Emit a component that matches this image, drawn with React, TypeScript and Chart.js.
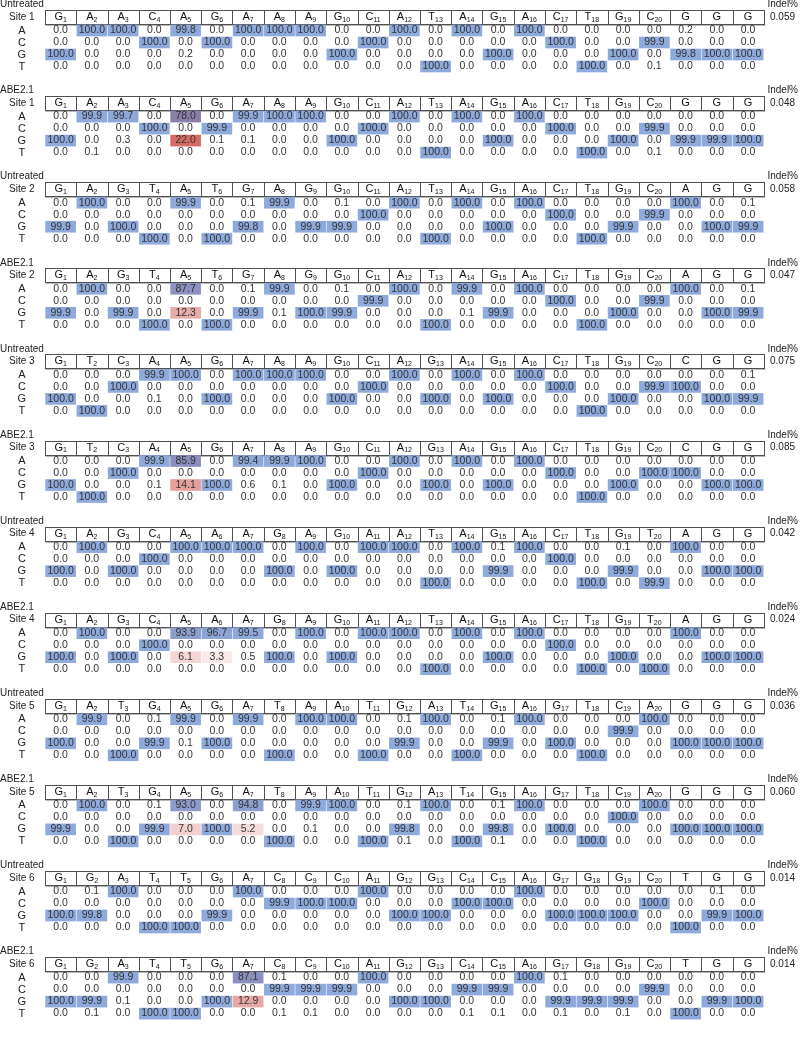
import React, { useEffect, useRef } from "react";
import { Chart, registerables } from "chart.js";
Chart.register(...registerables);

// ---------- DATA ----------
const ROW_BASES = ["A", "C", "G", "T"];
const CONDITIONS = ["Untreated", "ABE2.1"];

const SEQ_SITE1 = "GAACAGAAAGCATAGACTGCGGG";
const SEQ_SITE2 = "GAGTATGAGGCATAGACTGCAGG";
const SEQ_SITE3 = "GTCAAGAAAGCAGAGACTGCCGG";
const SEQ_SITE4 = "GAGCAAAGAGAATAGACTGTAGG";
const SEQ_SITE5 = "GATGAGATAATGATGAGTCAGGG";
const SEQ_SITE6 = "GGATTGACCCAGGCCAGGGCTGG";

// Site 1
const s1uA = [0.0, 100.0, 100.0, 0.0, 99.8, 0.0, 100.0, 100.0, 100.0, 0.0, 0.0, 100.0, 0.0, 100.0, 0.0, 100.0, 0.0, 0.0, 0.0, 0.0, 0.2, 0.0, 0.0];
const s1uC = [0.0, 0.0, 0.0, 100.0, 0.0, 100.0, 0.0, 0.0, 0.0, 0.0, 100.0, 0.0, 0.0, 0.0, 0.0, 0.0, 100.0, 0.0, 0.0, 99.9, 0.0, 0.0, 0.0];
const s1uG = [100.0, 0.0, 0.0, 0.0, 0.2, 0.0, 0.0, 0.0, 0.0, 100.0, 0.0, 0.0, 0.0, 0.0, 100.0, 0.0, 0.0, 0.0, 100.0, 0.0, 99.8, 100.0, 100.0];
const s1uT = [0.0, 0.0, 0.0, 0.0, 0.0, 0.0, 0.0, 0.0, 0.0, 0.0, 0.0, 0.0, 100.0, 0.0, 0.0, 0.0, 0.0, 100.0, 0.0, 0.1, 0.0, 0.0, 0.0];
const s1eA = [0.0, 99.9, 99.7, 0.0, 78.0, 0.0, 99.9, 100.0, 100.0, 0.0, 0.0, 100.0, 0.0, 100.0, 0.0, 100.0, 0.0, 0.0, 0.0, 0.0, 0.0, 0.0, 0.0];
const s1eC = [0.0, 0.0, 0.0, 100.0, 0.0, 99.9, 0.0, 0.0, 0.0, 0.0, 100.0, 0.0, 0.0, 0.0, 0.0, 0.0, 100.0, 0.0, 0.0, 99.9, 0.0, 0.0, 0.0];
const s1eG = [100.0, 0.0, 0.3, 0.0, 22.0, 0.1, 0.1, 0.0, 0.0, 100.0, 0.0, 0.0, 0.0, 0.0, 100.0, 0.0, 0.0, 0.0, 100.0, 0.0, 99.9, 99.9, 100.0];
const s1eT = [0.0, 0.1, 0.0, 0.0, 0.0, 0.0, 0.0, 0.0, 0.0, 0.0, 0.0, 0.0, 100.0, 0.0, 0.0, 0.0, 0.0, 100.0, 0.0, 0.1, 0.0, 0.0, 0.0];

// Site 2
const s2uA = [0.0, 100.0, 0.0, 0.0, 99.9, 0.0, 0.1, 99.9, 0.0, 0.1, 0.0, 100.0, 0.0, 100.0, 0.0, 100.0, 0.0, 0.0, 0.0, 0.0, 100.0, 0.0, 0.1];
const s2uC = [0.0, 0.0, 0.0, 0.0, 0.0, 0.0, 0.0, 0.0, 0.0, 0.0, 100.0, 0.0, 0.0, 0.0, 0.0, 0.0, 100.0, 0.0, 0.0, 99.9, 0.0, 0.0, 0.0];
const s2uG = [99.9, 0.0, 100.0, 0.0, 0.0, 0.0, 99.8, 0.0, 99.9, 99.9, 0.0, 0.0, 0.0, 0.0, 100.0, 0.0, 0.0, 0.0, 99.9, 0.0, 0.0, 100.0, 99.9];
const s2uT = [0.0, 0.0, 0.0, 100.0, 0.0, 100.0, 0.0, 0.0, 0.0, 0.0, 0.0, 0.0, 100.0, 0.0, 0.0, 0.0, 0.0, 100.0, 0.0, 0.0, 0.0, 0.0, 0.0];
const s2eA = [0.0, 100.0, 0.0, 0.0, 87.7, 0.0, 0.1, 99.9, 0.0, 0.1, 0.0, 100.0, 0.0, 99.9, 0.0, 100.0, 0.0, 0.0, 0.0, 0.0, 100.0, 0.0, 0.1];
const s2eC = [0.0, 0.0, 0.0, 0.0, 0.0, 0.0, 0.0, 0.0, 0.0, 0.0, 99.9, 0.0, 0.0, 0.0, 0.0, 0.0, 100.0, 0.0, 0.0, 99.9, 0.0, 0.0, 0.0];
const s2eG = [99.9, 0.0, 99.9, 0.0, 12.3, 0.0, 99.9, 0.1, 100.0, 99.9, 0.0, 0.0, 0.0, 0.1, 99.9, 0.0, 0.0, 0.0, 100.0, 0.0, 0.0, 100.0, 99.9];
const s2eT = [0.0, 0.0, 0.0, 100.0, 0.0, 100.0, 0.0, 0.0, 0.0, 0.0, 0.0, 0.0, 100.0, 0.0, 0.0, 0.0, 0.0, 100.0, 0.0, 0.0, 0.0, 0.0, 0.0];

// Site 3
const s3uA = [0.0, 0.0, 0.0, 99.9, 100.0, 0.0, 100.0, 100.0, 100.0, 0.0, 0.0, 100.0, 0.0, 100.0, 0.0, 100.0, 0.0, 0.0, 0.0, 0.0, 0.0, 0.0, 0.1];
const s3uC = [0.0, 0.0, 100.0, 0.0, 0.0, 0.0, 0.0, 0.0, 0.0, 0.0, 100.0, 0.0, 0.0, 0.0, 0.0, 0.0, 100.0, 0.0, 0.0, 99.9, 100.0, 0.0, 0.0];
const s3uG = [100.0, 0.0, 0.0, 0.1, 0.0, 100.0, 0.0, 0.0, 0.0, 100.0, 0.0, 0.0, 100.0, 0.0, 100.0, 0.0, 0.0, 0.0, 100.0, 0.0, 0.0, 100.0, 99.9];
const s3uT = [0.0, 100.0, 0.0, 0.0, 0.0, 0.0, 0.0, 0.0, 0.0, 0.0, 0.0, 0.0, 0.0, 0.0, 0.0, 0.0, 0.0, 100.0, 0.0, 0.0, 0.0, 0.0, 0.0];
const s3eA = [0.0, 0.0, 0.0, 99.9, 85.9, 0.0, 99.4, 99.9, 100.0, 0.0, 0.0, 100.0, 0.0, 100.0, 0.0, 100.0, 0.0, 0.0, 0.0, 0.0, 0.0, 0.0, 0.0];
const s3eC = [0.0, 0.0, 100.0, 0.0, 0.0, 0.0, 0.0, 0.0, 0.0, 0.0, 100.0, 0.0, 0.0, 0.0, 0.0, 0.0, 100.0, 0.0, 0.0, 100.0, 100.0, 0.0, 0.0];
const s3eG = [100.0, 0.0, 0.0, 0.1, 14.1, 100.0, 0.6, 0.1, 0.0, 100.0, 0.0, 0.0, 100.0, 0.0, 100.0, 0.0, 0.0, 0.0, 100.0, 0.0, 0.0, 100.0, 100.0];
const s3eT = [0.0, 100.0, 0.0, 0.0, 0.0, 0.0, 0.0, 0.0, 0.0, 0.0, 0.0, 0.0, 0.0, 0.0, 0.0, 0.0, 0.0, 100.0, 0.0, 0.0, 0.0, 0.0, 0.0];

// Site 4
const s4uA = [0.0, 100.0, 0.0, 0.0, 100.0, 100.0, 100.0, 0.0, 100.0, 0.0, 100.0, 100.0, 0.0, 100.0, 0.1, 100.0, 0.0, 0.0, 0.1, 0.0, 100.0, 0.0, 0.0];
const s4uC = [0.0, 0.0, 0.0, 100.0, 0.0, 0.0, 0.0, 0.0, 0.0, 0.0, 0.0, 0.0, 0.0, 0.0, 0.0, 0.0, 100.0, 0.0, 0.0, 0.0, 0.0, 0.0, 0.0];
const s4uG = [100.0, 0.0, 100.0, 0.0, 0.0, 0.0, 0.0, 100.0, 0.0, 100.0, 0.0, 0.0, 0.0, 0.0, 99.9, 0.0, 0.0, 0.0, 99.9, 0.0, 0.0, 100.0, 100.0];
const s4uT = [0.0, 0.0, 0.0, 0.0, 0.0, 0.0, 0.0, 0.0, 0.0, 0.0, 0.0, 0.0, 100.0, 0.0, 0.0, 0.0, 0.0, 100.0, 0.0, 99.9, 0.0, 0.0, 0.0];
const s4eA = [0.0, 100.0, 0.0, 0.0, 93.9, 96.7, 99.5, 0.0, 100.0, 0.0, 100.0, 100.0, 0.0, 100.0, 0.0, 100.0, 0.0, 0.0, 0.0, 0.0, 100.0, 0.0, 0.0];
const s4eC = [0.0, 0.0, 0.0, 100.0, 0.0, 0.0, 0.0, 0.0, 0.0, 0.0, 0.0, 0.0, 0.0, 0.0, 0.0, 0.0, 100.0, 0.0, 0.0, 0.0, 0.0, 0.0, 0.0];
const s4eG = [100.0, 0.0, 100.0, 0.0, 6.1, 3.3, 0.5, 100.0, 0.0, 100.0, 0.0, 0.0, 0.0, 0.0, 100.0, 0.0, 0.0, 0.0, 100.0, 0.0, 0.0, 100.0, 100.0];
const s4eT = [0.0, 0.0, 0.0, 0.0, 0.0, 0.0, 0.0, 0.0, 0.0, 0.0, 0.0, 0.0, 100.0, 0.0, 0.0, 0.0, 0.0, 100.0, 0.0, 100.0, 0.0, 0.0, 0.0];

// Site 5
const s5uA = [0.0, 99.9, 0.0, 0.1, 99.9, 0.0, 99.9, 0.0, 100.0, 100.0, 0.0, 0.1, 100.0, 0.0, 0.1, 100.0, 0.0, 0.0, 0.0, 100.0, 0.0, 0.0, 0.0];
const s5uC = [0.0, 0.0, 0.0, 0.0, 0.0, 0.0, 0.0, 0.0, 0.0, 0.0, 0.0, 0.0, 0.0, 0.0, 0.0, 0.0, 0.0, 0.0, 99.9, 0.0, 0.0, 0.0, 0.0];
const s5uG = [100.0, 0.0, 0.0, 99.9, 0.1, 100.0, 0.0, 0.0, 0.0, 0.0, 0.0, 99.9, 0.0, 0.0, 99.9, 0.0, 100.0, 0.0, 0.0, 0.0, 100.0, 100.0, 100.0];
const s5uT = [0.0, 0.0, 100.0, 0.0, 0.0, 0.0, 0.0, 100.0, 0.0, 0.0, 100.0, 0.0, 0.0, 100.0, 0.0, 0.0, 0.0, 100.0, 0.0, 0.0, 0.0, 0.0, 0.0];
const s5eA = [0.0, 100.0, 0.0, 0.1, 93.0, 0.0, 94.8, 0.0, 99.9, 100.0, 0.0, 0.1, 100.0, 0.0, 0.1, 100.0, 0.0, 0.0, 0.0, 100.0, 0.0, 0.0, 0.0];
const s5eC = [0.0, 0.0, 0.0, 0.0, 0.0, 0.0, 0.0, 0.0, 0.0, 0.0, 0.0, 0.0, 0.0, 0.0, 0.0, 0.0, 0.0, 0.0, 100.0, 0.0, 0.0, 0.0, 0.0];
const s5eG = [99.9, 0.0, 0.0, 99.9, 7.0, 100.0, 5.2, 0.0, 0.1, 0.0, 0.0, 99.8, 0.0, 0.0, 99.8, 0.0, 100.0, 0.0, 0.0, 0.0, 100.0, 100.0, 100.0];
const s5eT = [0.0, 0.0, 100.0, 0.0, 0.0, 0.0, 0.0, 100.0, 0.0, 0.0, 100.0, 0.1, 0.0, 100.0, 0.1, 0.0, 0.0, 100.0, 0.0, 0.0, 0.0, 0.0, 0.0];

// Site 6
const s6uA = [0.0, 0.1, 100.0, 0.0, 0.0, 0.0, 100.0, 0.0, 0.0, 0.0, 100.0, 0.0, 0.0, 0.0, 0.0, 100.0, 0.0, 0.0, 0.0, 0.0, 0.0, 0.1, 0.0];
const s6uC = [0.0, 0.0, 0.0, 0.0, 0.0, 0.0, 0.0, 99.9, 100.0, 100.0, 0.0, 0.0, 0.0, 100.0, 100.0, 0.0, 0.0, 0.0, 0.0, 100.0, 0.0, 0.0, 0.0];
const s6uG = [100.0, 99.8, 0.0, 0.0, 0.0, 99.9, 0.0, 0.0, 0.0, 0.0, 0.0, 100.0, 100.0, 0.0, 0.0, 0.0, 100.0, 100.0, 100.0, 0.0, 0.0, 99.9, 100.0];
const s6uT = [0.0, 0.0, 0.0, 100.0, 100.0, 0.0, 0.0, 0.0, 0.0, 0.0, 0.0, 0.0, 0.0, 0.0, 0.0, 0.0, 0.0, 0.0, 0.0, 0.0, 100.0, 0.0, 0.0];
const s6eA = [0.0, 0.0, 99.9, 0.0, 0.0, 0.0, 87.1, 0.1, 0.0, 0.0, 100.0, 0.0, 0.0, 0.0, 0.0, 100.0, 0.1, 0.0, 0.0, 0.0, 0.0, 0.0, 0.0];
const s6eC = [0.0, 0.0, 0.0, 0.0, 0.0, 0.0, 0.0, 99.9, 99.9, 99.9, 0.0, 0.0, 0.0, 99.9, 99.9, 0.0, 0.0, 0.0, 0.0, 99.9, 0.0, 0.0, 0.0];
const s6eG = [100.0, 99.9, 0.1, 0.0, 0.0, 100.0, 12.9, 0.0, 0.0, 0.0, 0.0, 100.0, 100.0, 0.0, 0.0, 0.0, 99.9, 99.9, 99.9, 0.0, 0.0, 99.9, 100.0];
const s6eT = [0.0, 0.1, 0.0, 100.0, 100.0, 0.0, 0.0, 0.1, 0.1, 0.0, 0.0, 0.0, 0.0, 0.1, 0.1, 0.0, 0.1, 0.0, 0.1, 0.0, 100.0, 0.0, 0.0];

const INDEL_UNTREATED = [0.059, 0.058, 0.075, 0.042, 0.036, 0.014];
const INDEL_ABE = [0.048, 0.047, 0.085, 0.024, 0.060, 0.014];

// ---------- TABLE BUILT FROM THE ARRAYS ----------
const SITE_SEQS = [SEQ_SITE1, SEQ_SITE2, SEQ_SITE3, SEQ_SITE4, SEQ_SITE5, SEQ_SITE6];
const UNT_ROWS = [
  [s1uA, s1uC, s1uG, s1uT], [s2uA, s2uC, s2uG, s2uT], [s3uA, s3uC, s3uG, s3uT],
  [s4uA, s4uC, s4uG, s4uT], [s5uA, s5uC, s5uG, s5uT], [s6uA, s6uC, s6uG, s6uT],
];
const ABE_ROWS = [
  [s1eA, s1eC, s1eG, s1eT], [s2eA, s2eC, s2eG, s2eT], [s3eA, s3eC, s3eG, s3eT],
  [s4eA, s4eC, s4eG, s4eT], [s5eA, s5eC, s5eG, s5eT], [s6eA, s6eC, s6eG, s6eT],
];

type Block = { cond: string; site: number; seq: string; rows: number[][]; indel: number };
const BLOCKS: Block[] = [];
for (let s = 0; s < 6; s++) {
  BLOCKS.push({ cond: CONDITIONS[0], site: s + 1, seq: SITE_SEQS[s], rows: UNT_ROWS[s], indel: INDEL_UNTREATED[s] });
  BLOCKS.push({ cond: CONDITIONS[1], site: s + 1, seq: SITE_SEQS[s], rows: ABE_ROWS[s], indel: INDEL_ABE[s] });
}

// ---------- LAYOUT / STYLE ----------
const BLOCK_H = 86.1;
const LABEL_Y = 4.5;
const HEAD_TOP = 10;
const HEAD_BOT = 24;
const ROW_Y0 = 30.5;
const ROW_H = 12;
const CELL_H = 11;
const X_MIN = -1.44;
const X_MAX = 24.16;
const LABEL_COL = -0.74;
const INDEL_COL = 23.2;
const FONT = "'Liberation Sans Narrow', 'Liberation Sans', Arial, sans-serif";

const BLUE = [142, 169, 219];
const PURPLE = [138, 126, 170];
const RED = [214, 106, 100];
const WHITE = [255, 255, 255];

function mix(a: number[], b: number[], t: number) {
  const c = a.map((v, i) => Math.round(v + (b[i] - v) * t));
  return `rgb(${c[0]},${c[1]},${c[2]})`;
}
function cellColor(v: number) {
  if (v >= 50) return mix(BLUE, PURPLE, Math.min(1, (100 - v) / 22));
  return mix(WHITE, RED, Math.min(1, v / 22));
}

export default function App() {
  const ref = useRef<HTMLCanvasElement>(null);
  useEffect(() => {
    const canvas = ref.current;
    if (!canvas) return;

    const points: { x: number; y: [number, number] }[] = [];
    const colors: string[] = [];
    BLOCKS.forEach((b, bi) => {
      b.rows.forEach((vals, r) => {
        vals.forEach((v, c) => {
          if (v < 1) return;
          const yc = bi * BLOCK_H + ROW_Y0 + r * ROW_H;
          points.push({ x: c + 0.5, y: [yc - CELL_H / 2, yc + CELL_H / 2] });
          colors.push(cellColor(v));
        });
      });
    });

    const tablePlugin = {
      id: "tableText",
      beforeDatasetsDraw(chart: any) {
        const ctx = chart.ctx;
        const xs = chart.scales.x;
        const ys = chart.scales.y;
        ctx.save();
        BLOCKS.forEach((b, bi) => {
          const base = bi * BLOCK_H;
          const x0 = Math.round(xs.getPixelForValue(0)) + 0.5;
          const x1 = Math.round(xs.getPixelForValue(23)) + 0.5;
          const yt = Math.round(ys.getPixelForValue(base + HEAD_TOP)) + 0.5;
          const yb = Math.round(ys.getPixelForValue(base + HEAD_BOT)) + 0.5;
          ctx.strokeStyle = "#b8b8b8";
          ctx.lineWidth = 1;
          ctx.beginPath();
          ctx.moveTo(x0, yb + 1);
          ctx.lineTo(x1 + 1, yb + 1);
          ctx.stroke();
          ctx.strokeStyle = "#505050";
          ctx.strokeRect(x0, yt, x1 - x0, yb - yt);
          ctx.beginPath();
          for (let c = 1; c < 23; c++) {
            const xx = Math.round(xs.getPixelForValue(c)) + 0.5;
            ctx.moveTo(xx, yt);
            ctx.lineTo(xx, yb);
          }
          ctx.stroke();
        });
        ctx.restore();
      },
      afterDatasetsDraw(chart: any) {
        const ctx = chart.ctx;
        const xs = chart.scales.x;
        const ys = chart.scales.y;
        ctx.save();
        ctx.textBaseline = "middle";
        BLOCKS.forEach((b, bi) => {
          const base = bi * BLOCK_H;
          ctx.fillStyle = "#222";
          ctx.font = `10px ${FONT}`;
          ctx.textAlign = "left";
          ctx.fillText(b.cond, xs.getPixelForValue(X_MIN), ys.getPixelForValue(base + LABEL_Y));
          ctx.textAlign = "right";
          ctx.fillText("Indel%", xs.getPixelForValue(X_MAX) - 2, ys.getPixelForValue(base + LABEL_Y));
          const hy = ys.getPixelForValue(base + (HEAD_TOP + HEAD_BOT) / 2);
          ctx.textAlign = "center";
          ctx.fillText(`Site ${b.site}`, xs.getPixelForValue(LABEL_COL), hy);
          ctx.textAlign = "left";
          ctx.fillText(b.indel.toFixed(3), xs.getPixelForValue(INDEL_COL), hy);
          for (let c = 0; c < 23; c++) {
            const letter = b.seq[c];
            const sub = c < 20 ? String(c + 1) : "";
            ctx.font = `11px ${FONT}`;
            const w1 = ctx.measureText(letter).width;
            ctx.font = `7px ${FONT}`;
            const w2 = sub ? ctx.measureText(sub).width : 0;
            const cx = xs.getPixelForValue(c + 0.5);
            const sx = cx - (w1 + w2) / 2;
            ctx.textAlign = "left";
            ctx.fillStyle = "#111";
            ctx.font = `11px ${FONT}`;
            ctx.fillText(letter, sx, hy);
            if (sub) {
              ctx.font = `7px ${FONT}`;
              ctx.fillText(sub, sx + w1, hy + 3);
            }
          }
          b.rows.forEach((vals, r) => {
            const yy = ys.getPixelForValue(base + ROW_Y0 + r * ROW_H);
            ctx.fillStyle = "#222";
            ctx.font = `11px ${FONT}`;
            ctx.textAlign = "center";
            ctx.fillText(ROW_BASES[r], xs.getPixelForValue(LABEL_COL), yy);
            ctx.font = `10.5px ${FONT}`;
            ctx.fillStyle = "#333";
            vals.forEach((v, c) => {
              ctx.fillText(v.toFixed(1), xs.getPixelForValue(c + 0.5), yy);
            });
          });
        });
        ctx.restore();
      },
    };

    const chart = new Chart(canvas, {
      type: "bar",
      data: {
        datasets: [
          {
            data: points as any,
            backgroundColor: colors,
            borderWidth: 0,
            barThickness: 30,
          } as any,
        ],
      },
      options: {
        animation: false,
        responsive: false,
        events: [],
        layout: { padding: 0 },
        plugins: { legend: { display: false }, tooltip: { enabled: false }, title: { display: false } },
        scales: {
          x: { type: "linear", min: X_MIN, max: X_MAX, offset: false, display: false, grid: { display: false } },
          y: { type: "linear", min: 0, max: 1041, reverse: true, display: false, grid: { display: false } },
        },
      },
      plugins: [tablePlugin],
    });
    return () => chart.destroy();
  }, []);

  return (
    <div style={{ position: "absolute", left: 0, top: 0, width: 800, height: 1041, background: "#fff" }}>
      <canvas ref={ref} width={800} height={1041} style={{ display: "block" }} />
    </div>
  );
}
